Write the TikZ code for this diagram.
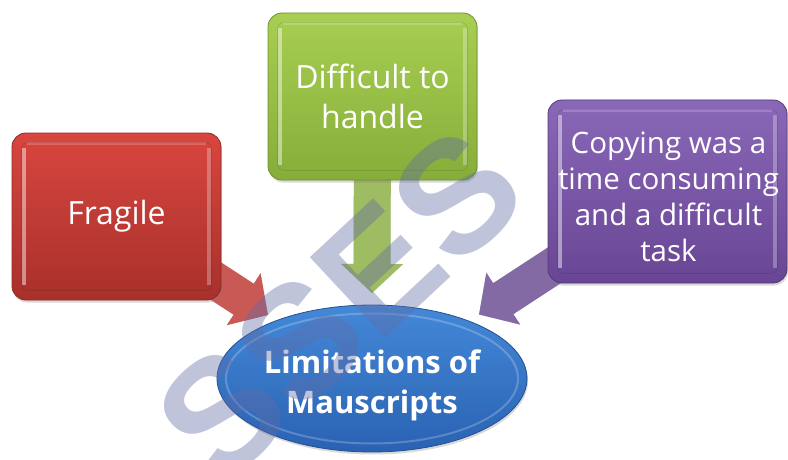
\documentclass[tikz,border=0pt]{standalone}
\usepackage{fontspec}
\setmainfont{Open Sans}
\newfontfamily\wmfont{Liberation Sans}
\usetikzlibrary{calc,shadows,shapes.geometric}
\definecolor{redtop}{HTML}{D8463F}
\definecolor{redbot}{HTML}{A8302B}
\definecolor{redbd}{HTML}{8E2A26}
\definecolor{redarr}{HTML}{C8504C}
\definecolor{grntop}{HTML}{A8CF52}
\definecolor{grnbot}{HTML}{86AD39}
\definecolor{grnbd}{HTML}{6F8F2E}
\definecolor{grnarr}{HTML}{9BBB59}
\definecolor{purtop}{HTML}{8A68B8}
\definecolor{purbot}{HTML}{684694}
\definecolor{purbd}{HTML}{55397A}
\definecolor{purarr}{HTML}{8064A2}
\definecolor{blutop}{HTML}{4488D8}
\definecolor{blubot}{HTML}{2A62B2}
\definecolor{blubd}{HTML}{24508F}
\definecolor{wmcol}{HTML}{606CA6}
\newcommand\blockarr[3]{%
  \coordinate (hh) at ($(#2)!29pt!(#1)$);
  \fill[black,opacity=.18,shift={(1.5,2.5)}] ($(#1)!18.5pt!-90:(#2)$) -- ($(hh)!18.5pt!90:(#1)$) -- ($(hh)!31pt!90:(#1)$) -- (#2) -- ($(hh)!31pt!-90:(#1)$) -- ($(hh)!18.5pt!-90:(#1)$) -- ($(#1)!18.5pt!90:(#2)$) -- cycle;
  \fill[#3] ($(#1)!18.5pt!-90:(#2)$) -- ($(hh)!18.5pt!90:(#1)$) -- ($(hh)!31pt!90:(#1)$) -- (#2) -- ($(hh)!31pt!-90:(#1)$) -- ($(hh)!18.5pt!-90:(#1)$) -- ($(#1)!18.5pt!90:(#2)$) -- cycle;
}
\newcommand\bevelbox[1]{%
  \fill[white,opacity=.45] ($(#1.north west)+(10,15)$) rectangle ($(#1.south west)+(14,-15)$);
  \fill[white,opacity=.28] ($(#1.north east)+(-14,15)$) rectangle ($(#1.south east)+(-10,-15)$);
  \fill[white,opacity=.18] ($(#1.north west)+(15,9)$) rectangle ($(#1.north east)+(-15,12)$);
  \draw[black,opacity=.10,line width=.8pt,rounded corners=6pt] ($(#1.north west)+(10,10)$) rectangle ($(#1.south east)+(-10,-10)$);
}
\begin{document}
\begin{tikzpicture}[x=1pt,y=-1pt,
  box/.style={rectangle,rounded corners=14pt,inner sep=0pt,text=white,align=center,
    line width=.8pt,drop shadow={shadow xshift=1pt,shadow yshift=-2.5pt,opacity=.3},
    font=\fontsize{32}{40}\selectfont},
  boxtext/.style={text=white,align=center,inner sep=0pt},
  wm/.style={text=wmcol,text opacity=.4,inner sep=0pt,font=\wmfont\bfseries\fontsize{160}{160}\selectfont}]
\useasboundingbox (0,0) rectangle (788,460);
% central ellipse
\node[ellipse,minimum width=310pt,minimum height=147pt,inner sep=0pt,
  top color=blutop,bottom color=blubot,draw=blubd,line width=.8pt,
  drop shadow={shadow xshift=1pt,shadow yshift=-2.5pt,opacity=.3}] (lim) at (372,378.5) {};
\draw[white,opacity=.22,line width=2pt] (lim.center) ellipse [x radius=146,y radius=65];
\node[boxtext,font=\bfseries\fontsize{31}{40}\selectfont] (limtxt) at (372,385)
  {Limitations of\\Mauscripts};
% arrow tips
\coordinate (t1) at (268,315);
\coordinate (t2) at (372,293);
\coordinate (t3) at (479,314.5);
% box centres
\path (116.5,216.5) coordinate (c1) (372.5,96.5) coordinate (c2) (667.5,191.5) coordinate (c3);
\blockarr{c1}{t1}{redarr,opacity=.92}
\blockarr{c2}{t2}{grnarr,opacity=.92}
\blockarr{c3}{t3}{purarr,opacity=.95}
% boxes
\node[box,minimum width=209pt,minimum height=167pt,top color=redtop,bottom color=redbot,draw=redbd] (fragile) at (c1) {Fragile};
\bevelbox{fragile}
\node[box,minimum width=209pt,minimum height=167pt,top color=grntop,bottom color=grnbot,draw=grnbd] (handle) at (c2) {Difficult to\\handle};
\bevelbox{handle}
\node[box,minimum width=239pt,minimum height=183pt,top color=purtop,bottom color=purbot,draw=purbd] (copy) at (c3) {};
\bevelbox{copy}
\node[boxtext,font=\fontsize{29.5}{36}\selectfont] (copytxt) at ($(copy.center)+(1,5)$)
  {Copying was a\\time consuming\\and a difficult\\task};
% watermark
\node[wm,rotate=43,anchor=base] (wmark) at (377,345) {SSES};
\end{tikzpicture}
\end{document}
